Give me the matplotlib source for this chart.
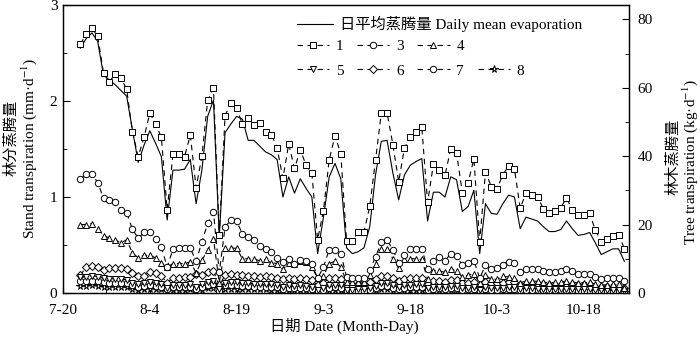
import matplotlib

matplotlib.use("Agg")

import matplotlib.pyplot as plt
import pandas as pd
from matplotlib.lines import Line2D
from matplotlib.ticker import MultipleLocator

plt.rcParams["font.family"] = ["Liberation Serif", "Noto Sans CJK SC"]
plt.rcParams["mathtext.fontset"] = "stix"

# daily values, 7-23 .. 10-25
dates = pd.date_range("2012-07-23", "2012-10-25", freq="D")
tick_dates = pd.date_range("2012-07-20", "2012-10-18", freq="15D")
tick_labels = [f"{d.month}-{d.day}" for d in tick_dates]

# stand transpiration, mm/d (left axis)
mean_evap = [
    2.55, 2.65, 2.71, 2.62, 2.27, 2.22, 2.17, 2.11, 2.05, 1.70,
    1.36, 1.54, 1.69, 1.56, 1.42, 0.76, 1.28, 1.28, 1.29, 1.39,
    0.93, 1.28, 1.84, 2.01, 0.58, 1.67, 1.76, 1.84, 1.81, 1.59,
    1.59, 1.53, 1.47, 1.44, 1.39, 1.00, 1.21, 1.04, 1.19, 1.09,
    1.00, 0.41, 0.79, 1.21, 1.35, 1.19, 0.47, 0.41, 0.43, 0.47,
    0.69, 1.23, 1.58, 1.59, 1.25, 0.97, 1.23, 1.33, 1.37, 1.40,
    0.75, 1.05, 1.05, 1.00, 1.21, 1.18, 0.85, 0.90, 1.07, 0.41,
    0.93, 0.83, 0.82, 0.93, 1.02, 1.00, 0.67, 0.79, 0.77, 0.75,
    0.69, 0.64, 0.64, 0.66, 0.75, 0.67, 0.60, 0.61, 0.63, 0.52,
    0.40, 0.43, 0.46, 0.46, 0.33,
]

# tree transpiration, kg/d (right axis)
tree_1 = [
    72.8, 75.6, 77.4, 75.0, 64.3, 61.7, 64.0, 62.9, 59.6, 47.0,
    39.9, 45.5, 52.6, 49.4, 45.5, 24.3, 40.5, 40.7, 39.9, 46.2,
    30.8, 40.0, 56.3, 59.8, 17.0, 51.8, 55.6, 54.0, 49.4, 51.1,
    49.2, 49.7, 47.2, 46.3, 42.4, 33.5, 43.6, 36.4, 41.8, 37.4,
    35.0, 15.6, 24.1, 38.9, 46.0, 40.7, 15.2, 15.2, 17.8, 17.8,
    25.3, 38.8, 52.6, 52.6, 43.4, 32.5, 42.4, 45.5, 47.2, 48.4,
    26.5, 37.6, 35.9, 34.4, 42.1, 41.0, 29.3, 32.3, 39.2, 14.9,
    35.4, 31.1, 30.5, 34.6, 37.1, 36.3, 24.8, 29.2, 28.6, 28.0,
    24.7, 23.3, 23.9, 24.9, 27.8, 24.3, 22.7, 22.9, 23.3, 18.3,
    15.0, 15.9, 16.7, 17.1, 13.0,
]
tree_3 = [
    33.2, 34.9, 34.7, 32.3, 27.7, 27.2, 26.7, 24.3, 23.5, 18.6,
    16.0, 17.7, 17.7, 15.9, 13.4, 7.6, 12.8, 13.1, 13.3, 13.1,
    9.3, 14.9, 20.4, 23.6, 6.0, 19.2, 21.4, 21.0, 17.3, 16.3,
    15.6, 13.7, 12.9, 12.0, 10.3, 9.1, 10.0, 8.6, 9.6, 9.3,
    8.4, 4.3, 7.6, 12.7, 12.7, 11.5, 4.7, 4.5, 4.5, 4.5,
    6.7, 10.5, 14.9, 15.4, 12.7, 8.9, 11.0, 12.8, 13.0, 13.0,
    7.0, 9.5, 10.6, 9.4, 11.5, 10.9, 8.1, 8.8, 9.5, 4.3,
    8.1, 7.0, 7.4, 8.3, 9.2, 8.8, 6.2, 7.0, 7.0, 7.0,
    6.5, 6.1, 6.1, 6.5, 7.0, 6.5, 5.6, 5.6, 5.6, 4.7,
    4.1, 4.4, 4.4, 4.4, 3.6,
]
tree_4 = [
    20.0, 20.0, 20.3, 18.7, 16.8, 16.1, 15.6, 14.6, 15.6, 11.7,
    10.3, 11.0, 11.0, 10.3, 8.8, 7.6, 8.6, 8.6, 8.6, 9.1,
    5.9, 9.6, 12.5, 15.9, 3.0, 13.1, 13.1, 13.1, 10.0, 10.0,
    10.0, 9.4, 9.8, 8.9, 8.6, 6.9, 8.8, 8.6, 9.4, 9.2,
    7.6, 4.3, 4.9, 8.6, 9.3, 7.6, 3.3, 3.3, 3.3, 3.3,
    5.2, 8.6, 13.0, 13.0, 10.0, 7.2, 10.0, 10.0, 10.0, 9.8,
    4.0, 6.5, 6.5, 6.0, 7.0, 6.5, 4.7, 5.2, 5.7, 2.8,
    5.2, 4.0, 4.0, 4.9, 4.7, 4.4, 3.0, 3.5, 3.5, 3.4,
    3.2, 3.0, 3.1, 3.2, 3.5, 3.2, 3.0, 3.0, 3.1, 2.6,
    2.3, 2.4, 2.5, 2.5, 1.6,
]
tree_5 = [
    4.6, 4.8, 4.9, 4.8, 4.3, 4.2, 4.1, 4.0, 3.9, 3.0,
    2.5, 2.8, 3.1, 2.9, 2.6, 1.6, 2.4, 2.4, 2.4, 2.6,
    1.9, 2.5, 3.3, 3.6, 1.2, 3.0, 3.2, 3.1, 2.8, 2.8,
    2.7, 2.6, 2.5, 2.5, 2.3, 1.9, 2.3, 2.0, 2.2, 2.1,
    1.9, 1.0, 1.5, 2.2, 2.4, 2.2, 1.0, 1.0, 1.1, 1.1,
    1.5, 2.1, 2.8, 2.8, 2.3, 1.8, 2.2, 2.4, 2.5, 2.5,
    1.4, 1.9, 1.9, 1.8, 2.1, 2.0, 1.5, 1.6, 1.8, 0.9,
    1.7, 1.5, 1.5, 1.6, 1.7, 1.7, 1.2, 1.4, 1.4, 1.3,
    1.2, 1.2, 1.2, 1.2, 1.3, 1.2, 1.1, 1.1, 1.1, 0.9,
    0.8, 0.8, 0.8, 0.8, 0.6,
]
tree_6 = [
    5.2, 7.6, 7.8, 7.6, 6.8, 7.2, 7.2, 7.3, 7.1, 5.8,
    5.0, 5.0, 6.2, 5.8, 5.0, 2.9, 4.5, 4.5, 4.6, 4.6,
    5.5, 5.2, 6.0, 6.5, 2.0, 5.3, 5.5, 5.3, 5.2, 5.0,
    5.0, 4.8, 4.9, 4.7, 4.5, 4.0, 4.4, 4.2, 4.4, 4.2,
    3.8, 2.2, 3.0, 4.3, 4.5, 4.1, 2.4, 2.4, 2.5, 2.5,
    3.2, 4.0, 5.0, 5.0, 4.3, 3.4, 4.1, 4.4, 4.5, 4.5,
    2.6, 3.4, 3.5, 3.3, 3.8, 3.7, 2.8, 3.0, 3.3, 1.8,
    3.1, 2.8, 2.8, 3.0, 3.2, 3.1, 2.3, 2.6, 2.6, 2.5,
    2.4, 2.3, 2.3, 2.4, 2.6, 2.4, 2.2, 2.2, 2.2, 1.9,
    1.7, 1.8, 1.8, 1.8, 1.4,
]
tree_7 = [
    3.4, 3.5, 3.6, 3.5, 3.1, 3.0, 3.0, 2.9, 2.8, 2.2,
    1.8, 2.0, 2.2, 2.1, 1.9, 1.1, 1.7, 1.7, 1.7, 1.9,
    1.3, 1.8, 2.4, 2.6, 0.7, 2.2, 2.3, 2.2, 2.0, 2.0,
    1.9, 1.9, 1.8, 1.8, 1.7, 1.3, 1.6, 1.4, 1.6, 1.5,
    1.3, 0.6, 1.0, 1.6, 1.7, 1.5, 0.6, 0.6, 0.7, 0.7,
    1.0, 1.5, 2.0, 2.0, 1.6, 1.2, 1.6, 1.7, 1.8, 1.8,
    0.9, 1.3, 1.4, 1.3, 1.5, 1.4, 1.0, 1.1, 1.3, 0.5,
    1.2, 1.0, 1.0, 1.1, 1.2, 1.2, 0.8, 0.9, 0.9, 0.9,
    0.8, 0.8, 0.8, 0.8, 0.9, 0.8, 0.7, 0.7, 0.7, 0.6,
    0.5, 0.5, 0.5, 0.5, 0.4,
]
tree_8 = [
    2.0, 2.1, 2.2, 2.1, 1.9, 1.8, 1.8, 1.7, 1.7, 1.3,
    1.0, 1.2, 1.3, 1.2, 1.1, 0.6, 1.0, 1.0, 1.0, 1.1,
    0.8, 1.0, 1.4, 1.5, 0.4, 1.3, 1.3, 1.3, 1.2, 1.2,
    1.1, 1.1, 1.1, 1.0, 1.0, 0.8, 0.9, 0.8, 0.9, 0.9,
    0.8, 0.4, 0.6, 0.9, 1.0, 0.9, 0.4, 0.4, 0.4, 0.4,
    0.6, 0.9, 1.2, 1.2, 1.0, 0.7, 0.9, 1.0, 1.0, 1.0,
    0.5, 0.8, 0.8, 0.7, 0.9, 0.8, 0.6, 0.6, 0.7, 0.3,
    0.7, 0.6, 0.6, 0.6, 0.7, 0.7, 0.5, 0.5, 0.5, 0.5,
    0.5, 0.4, 0.4, 0.5, 0.5, 0.5, 0.4, 0.4, 0.4, 0.3,
    0.3, 0.3, 0.3, 0.3, 0.2,
]

tree_series = [
    ("1", tree_1, "s", 4.0),
    ("3", tree_3, "o", 4.6),
    ("4", tree_4, "^", 4.8),
    ("5", tree_5, "v", 4.8),
    ("6", tree_6, "D", 3.8),
    ("7", tree_7, "o", 4.6),
    ("8", tree_8, "*", 5.3),
]

fig = plt.figure(figsize=(7.0, 3.38), dpi=100)
ax = fig.add_axes([63 / 700, 45 / 338, 566 / 700, 288 / 338])
ax2 = ax.twinx()

(mean_line,) = ax.plot(dates, mean_evap, color="black", linewidth=0.8, zorder=5)

handles = {}
for name, values, marker, size in reversed(tree_series):
    (h,) = ax2.plot(
        dates,
        values,
        linestyle=(0, (5, 4)),
        linewidth=0.8,
        color="black",
        marker=marker,
        markersize=size,
        markerfacecolor="white",
        markeredgecolor="black",
        markeredgewidth=0.7,
    )
    handles[name] = h

start = pd.Timestamp("2012-07-20")
ax.set_xlim(start, start + pd.Timedelta(days=97.8))
ax.set_ylim(0, 3)
ax2.set_ylim(0, 84.2)

ax.set_xticks(tick_dates)
ax.set_xticklabels(tick_labels)
ax.set_xticks(pd.date_range("2012-07-20", periods=14, freq="180h"), minor=True)
ax.yaxis.set_major_locator(MultipleLocator(1))
ax.yaxis.set_minor_locator(MultipleLocator(0.5))
ax2.yaxis.set_major_locator(MultipleLocator(20))
ax2.yaxis.set_minor_locator(MultipleLocator(10))

ax.tick_params(axis="both", which="both", direction="in", labelsize=11, top=False)
ax.tick_params(axis="x", which="major", length=4, pad=8)
ax.tick_params(axis="x", which="minor", length=3)
ax.tick_params(axis="y", which="major", length=5, pad=4)
ax.tick_params(axis="y", which="minor", length=3)
ax2.tick_params(axis="y", which="both", direction="in", labelsize=11, pad=6)
ax2.tick_params(axis="y", which="major", length=5)
ax2.tick_params(axis="y", which="minor", length=3)
for a in (ax, ax2):
    for spine in a.spines.values():
        spine.set_linewidth(0.9)

# axis titles: Chinese line + English line
fig.text(11 / 700, 1 - 138 / 338, "林分蒸腾量", rotation=90, ha="center", va="center", fontsize=11)
fig.text(29 / 700, 1 - 148 / 338, "Stand transpiration (mm·d$^{-1}$)", rotation=90,
         ha="center", va="center", fontsize=11)
fig.text(673 / 700, 1 - 157 / 338, "林木蒸腾量", rotation=90, ha="center", va="center", fontsize=11)
fig.text(690 / 700, 1 - 162 / 338, "Tree transpiration (kg·d$^{-1}$)", rotation=90,
         ha="center", va="center", fontsize=11)
fig.text(344 / 700, 1 - 326 / 338, "日期 Date (Month-Day)", ha="center", va="center", fontsize=11)

leg1 = ax2.legend(
    [mean_line],
    ["日平均蒸腾量 Daily mean evaporation"],
    loc="upper left",
    bbox_to_anchor=(0.413, 0.962),
    frameon=False,
    fontsize=11,
    handlelength=2.35,
    handletextpad=0.45,
    borderpad=0,
    borderaxespad=0,
)
ax2.add_artist(leg1)

blank = Line2D([], [], linestyle="none")
order = ["1", "5", "3", "6", "4", "7", None, "8"]
leg2 = ax2.legend(
    [handles[k] if k else blank for k in order],
    [k if k else "" for k in order],
    ncol=4,
    loc="upper left",
    bbox_to_anchor=(0.413, 0.88),
    frameon=False,
    fontsize=11,
    handlelength=2.1,
    handletextpad=0.45,
    columnspacing=0.9,
    labelspacing=0.7,
    borderpad=0,
    borderaxespad=0,
)

fig.savefig("out.png", dpi=100)
